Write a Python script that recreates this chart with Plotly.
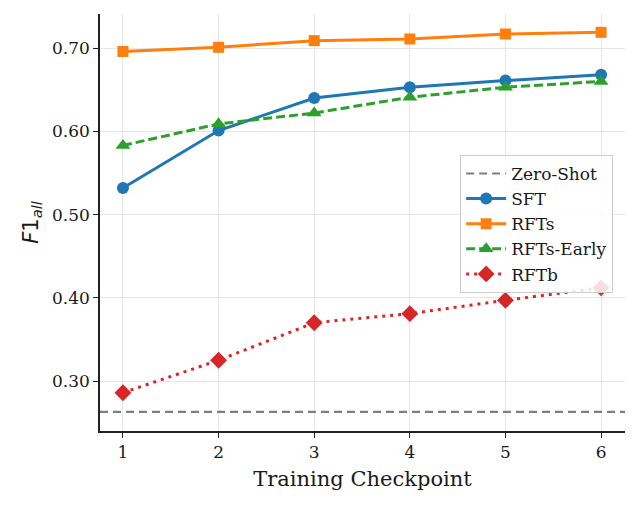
import plotly.graph_objects as go

checkpoints = [1, 2, 3, 4, 5, 6]
sft = [0.532, 0.601, 0.640, 0.653, 0.661, 0.668]
rfts = [0.696, 0.701, 0.709, 0.711, 0.717, 0.719]
rfts_early = [0.583, 0.609, 0.622, 0.641, 0.653, 0.660]
rftb = [0.286, 0.325, 0.370, 0.381, 0.397, 0.412]
zero_shot = 0.263
y_ticks = [0.30, 0.40, 0.50, 0.60, 0.70]

FONT = "DejaVu Serif"

fig = go.Figure()

# Zero-shot reference line
fig.add_hline(y=zero_shot, line=dict(color="#7f7f7f", width=2.2, dash="8px,5px"), layer="above")
fig.add_trace(go.Scatter(x=[None], y=[None], mode="lines", name="Zero-Shot",
                         line=dict(color="#7f7f7f", width=2.2, dash="8px,5px")))

fig.add_trace(go.Scatter(x=checkpoints, y=sft, mode="lines+markers", name="SFT",
                         line=dict(color="#1f77b4", width=3),
                         marker=dict(symbol="circle", size=12, color="#1f77b4")))
fig.add_trace(go.Scatter(x=checkpoints, y=rfts, mode="lines+markers", name="RFTs",
                         line=dict(color="#ff7f0e", width=3),
                         marker=dict(symbol="square", size=11, color="#ff7f0e")))
fig.add_trace(go.Scatter(x=checkpoints, y=rfts_early, mode="lines+markers", name="RFTs-Early",
                         line=dict(color="#2ca02c", width=3, dash="9px,4px"),
                         marker=dict(symbol="triangle-up", size=13, color="#2ca02c")))
fig.add_trace(go.Scatter(x=checkpoints, y=rftb, mode="lines+markers", name="RFTb",
                         line=dict(color="#d62728", width=3, dash="3px,5px"),
                         marker=dict(symbol="diamond", size=13, color="#d62728")))

fig.update_layout(
    width=639, height=505,
    margin=dict(l=100, r=14, t=14, b=74),
    plot_bgcolor="white", paper_bgcolor="white",
    font=dict(family=FONT, size=17, color="#1a1a1a"),
    legend=dict(x=0.686, y=0.662, xanchor="left", yanchor="top",
                bgcolor="rgba(255,255,255,0.85)", bordercolor="#cccccc", borderwidth=1,
                font=dict(family=FONT, size=17, color="#1a1a1a"),
                itemwidth=40, tracegroupgap=0),
    showlegend=True,
)
fig.update_xaxes(
    range=[0.76, 6.25], tickvals=checkpoints, ticks="outside", ticklen=5, tickwidth=1.2,
    tickcolor="#222", showline=True, linecolor="#222", linewidth=1.5,
    showgrid=True, gridcolor="#e6e6e6", gridwidth=1, zeroline=False,
    title=dict(text="Training Checkpoint", font=dict(family=FONT, size=21, color="#1a1a1a"), standoff=10),
    tickfont=dict(family=FONT, size=17, color="#1a1a1a"),
)
fig.update_yaxes(
    range=[0.240, 0.741], tickvals=y_ticks, tickformat=".2f", ticks="outside", ticklen=5,
    tickwidth=1.2, tickcolor="#222", showline=True, linecolor="#222", linewidth=1.5,
    showgrid=True, gridcolor="#e6e6e6", gridwidth=1, zeroline=False,
    title=dict(text="<i>F</i>1<sub><i>all</i></sub>", font=dict(family="DejaVu Sans", size=21, color="#1a1a1a"), standoff=8),
    tickfont=dict(family=FONT, size=17, color="#1a1a1a"),
)

fig.write_html("out.html")
